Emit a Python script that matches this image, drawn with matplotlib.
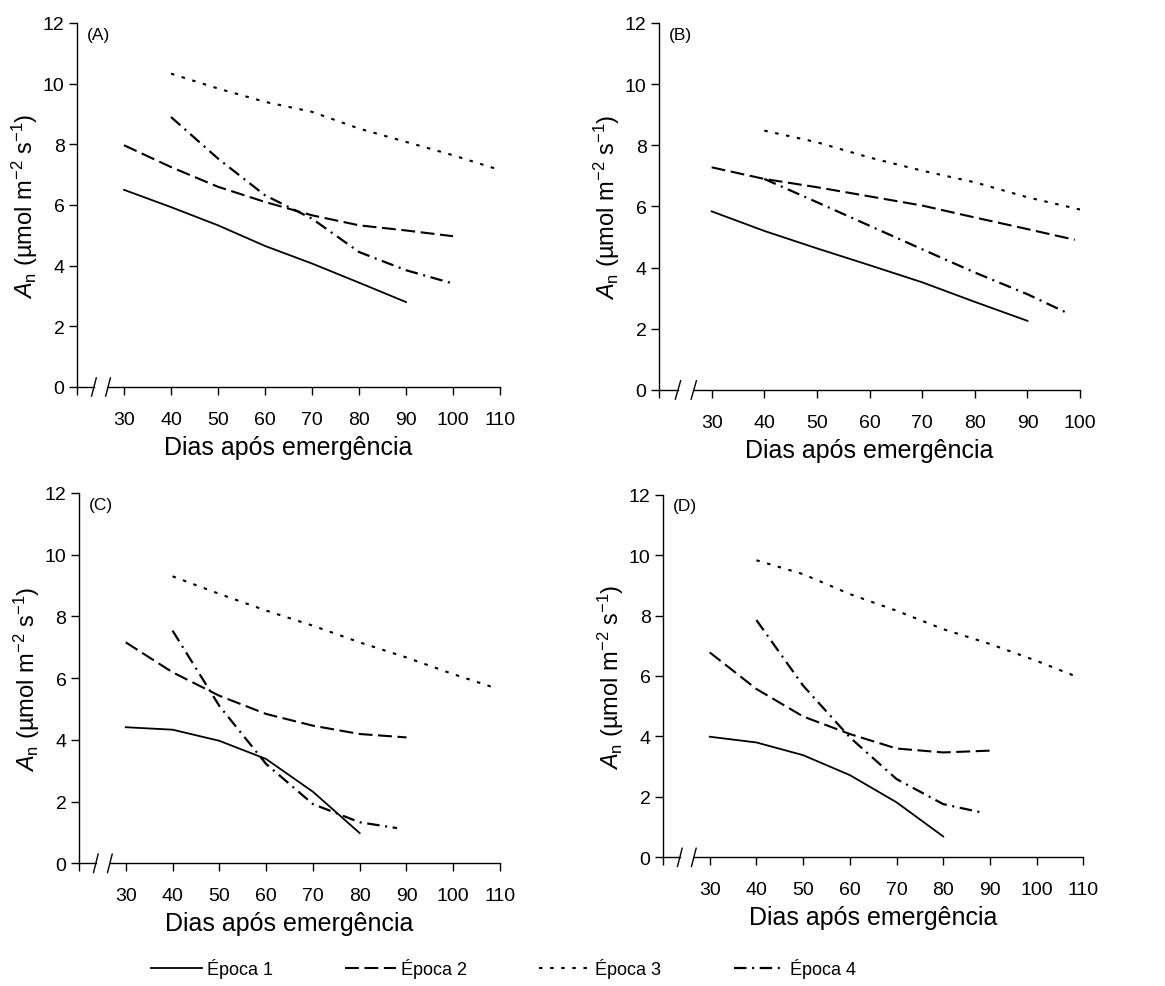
import matplotlib
matplotlib.use("Agg")
import matplotlib.pyplot as plt
from matplotlib.lines import Line2D

plt.rcParams['font.family'] = ['Liberation Sans', 'DejaVu Sans']
plt.rcParams['mathtext.fontset'] = 'custom'
plt.rcParams['mathtext.rm'] = 'Liberation Sans'
plt.rcParams['mathtext.it'] = 'Liberation Sans:italic'
plt.rcParams['lines.scale_dashes'] = False

# ---- data ----
# panel A
a_x1 = [30, 40, 50, 60, 70, 80, 90]
a_y1 = [6.5, 5.93, 5.33, 4.65, 4.07, 3.44, 2.8]
a_x2 = [30, 40, 50, 60, 70, 80, 90, 100]
a_y2 = [7.97, 7.25, 6.6, 6.1, 5.66, 5.33, 5.16, 4.97]
a_x3 = [40, 50, 60, 70, 80, 90, 100, 109]
a_y3 = [10.33, 9.84, 9.4, 9.07, 8.52, 8.08, 7.64, 7.2]
a_x4 = [40, 50, 60, 70, 80, 90, 100]
a_y4 = [8.9, 7.53, 6.32, 5.55, 4.45, 3.85, 3.41]

# panel B
b_x1 = [30, 40, 50, 60, 70, 80, 90]
b_y1 = [5.84, 5.2, 4.63, 4.08, 3.52, 2.88, 2.26]
b_x2 = [30, 40, 50, 60, 70, 80, 90, 99]
b_y2 = [7.28, 6.9, 6.63, 6.33, 6.03, 5.64, 5.26, 4.91]
b_x3 = [40, 50, 60, 70, 80, 90, 100]
b_y3 = [8.48, 8.1, 7.6, 7.17, 6.79, 6.3, 5.9]
b_x4 = [40, 50, 60, 70, 80, 90, 98]
b_y4 = [6.9, 6.14, 5.37, 4.6, 3.84, 3.13, 2.48]

# panel C
c_x1 = [30, 40, 50, 60, 70, 80]
c_y1 = [4.41, 4.33, 3.97, 3.38, 2.32, 0.98]
c_x2 = [30, 40, 50, 60, 70, 80, 90]
c_y2 = [7.16, 6.19, 5.43, 4.84, 4.46, 4.19, 4.08]
c_x3 = [40, 50, 60, 70, 80, 90, 100, 109]
c_y3 = [9.3, 8.73, 8.19, 7.7, 7.16, 6.67, 6.13, 5.68]
c_x4 = [40, 50, 60, 70, 80, 88]
c_y4 = [7.54, 5.1, 3.22, 1.92, 1.33, 1.14]

# panel D
d_x1 = [30, 40, 50, 60, 70, 80]
d_y1 = [3.99, 3.8, 3.38, 2.72, 1.82, 0.69]
d_x2 = [30, 40, 50, 60, 70, 80, 90]
d_y2 = [6.78, 5.57, 4.66, 4.08, 3.6, 3.47, 3.53]
d_x3 = [40, 50, 60, 70, 80, 90, 100, 109]
d_y3 = [9.83, 9.37, 8.71, 8.16, 7.55, 7.06, 6.5, 5.95]
d_x4 = [40, 50, 60, 70, 80, 88]
d_y4 = [7.85, 5.68, 3.97, 2.59, 1.76, 1.49]

series_names = ['Época 1', 'Época 2', 'Época 3', 'Época 4']
panel_labels = ['(A)', '(B)', '(C)', '(D)']
yticks = [0, 2, 4, 6, 8, 10, 12]

styles = [
    dict(linestyle='-', linewidth=1.3),
    dict(linestyle=(0, (10, 4)), linewidth=1.5),
    dict(linestyle=(0, (2.5, 5.5)), linewidth=1.5),
    dict(linestyle=(0, (9, 4, 1.5, 4)), linewidth=1.6),
]

panels = [
    ([a_x1, a_x2, a_x3, a_x4], [a_y1, a_y2, a_y3, a_y4], 110, [0.0661, 0.6069, 0.3631, 0.3688]),
    ([b_x1, b_x2, b_x3, b_x4], [b_y1, b_y2, b_y3, b_y4], 100, [0.5657, 0.6039, 0.3614, 0.3718]),
    ([c_x1, c_x2, c_x3, c_x4], [c_y1, c_y2, c_y3, c_y4], 110, [0.0678, 0.1243, 0.3614, 0.3752]),
    ([d_x1, d_x2, d_x3, d_x4], [d_y1, d_y2, d_y3, d_y4], 110, [0.5691, 0.1304, 0.3608, 0.3674]),
]

fig = plt.figure(figsize=(11.65, 9.87), dpi=100)

for i, (xs, ys, xmax, pos) in enumerate(panels):
    ax = fig.add_axes(pos)
    for x, y, st in zip(xs, ys, styles):
        ax.plot(x, y, color='black', **st)
    ax.set_xlim(20, xmax)
    ax.set_ylim(0, 12)
    xt = list(range(20, xmax + 1, 10))
    ax.set_xticks(xt)
    ax.set_xticklabels([''] + [str(v) for v in xt[1:]])
    ax.set_yticks(yticks)
    for s in ['top', 'right', 'bottom']:
        ax.spines[s].set_visible(False)
    ax.spines['left'].set_linewidth(1.0)
    ax.tick_params(axis='both', direction='out', length=6, width=1.0, labelsize=14)
    ax.tick_params(axis='x', pad=11)
    ax.tick_params(axis='y', pad=3)
    # x axis line with a break between 20 and 30
    tr = ax.get_xaxis_transform()
    ax.plot([20, 23.6], [0, 0], transform=tr, color='black', lw=1.0, clip_on=False)
    ax.plot([26.6, xmax], [0, 0], transform=tr, color='black', lw=1.0, clip_on=False)
    for bx in [23.6, 26.6]:
        ax.plot([bx - 0.5, bx + 0.5], [-0.025, 0.025], transform=tr,
                color='black', lw=1.0, clip_on=False)
    ax.set_xlabel('Dias após emergência', fontsize=18, labelpad=5)
    ax.set_ylabel(r'$\mathit{A}_{\mathrm{n}}$ (µmol m$^{-2}$ s$^{-1}$)', fontsize=17, labelpad=2)
    ax.text(0.024, 0.99, panel_labels[i], transform=ax.transAxes,
            ha='left', va='top', fontsize=12.5)

handles = [Line2D([], [], color='black', **st) for st in styles]
fig.legend(handles, series_names, loc='center', bbox_to_anchor=(0.432, 0.018),
           ncol=4, frameon=False, fontsize=13, handlelength=2.8,
           handletextpad=0.3, columnspacing=4.0)

fig.savefig('out.png', dpi=100)
